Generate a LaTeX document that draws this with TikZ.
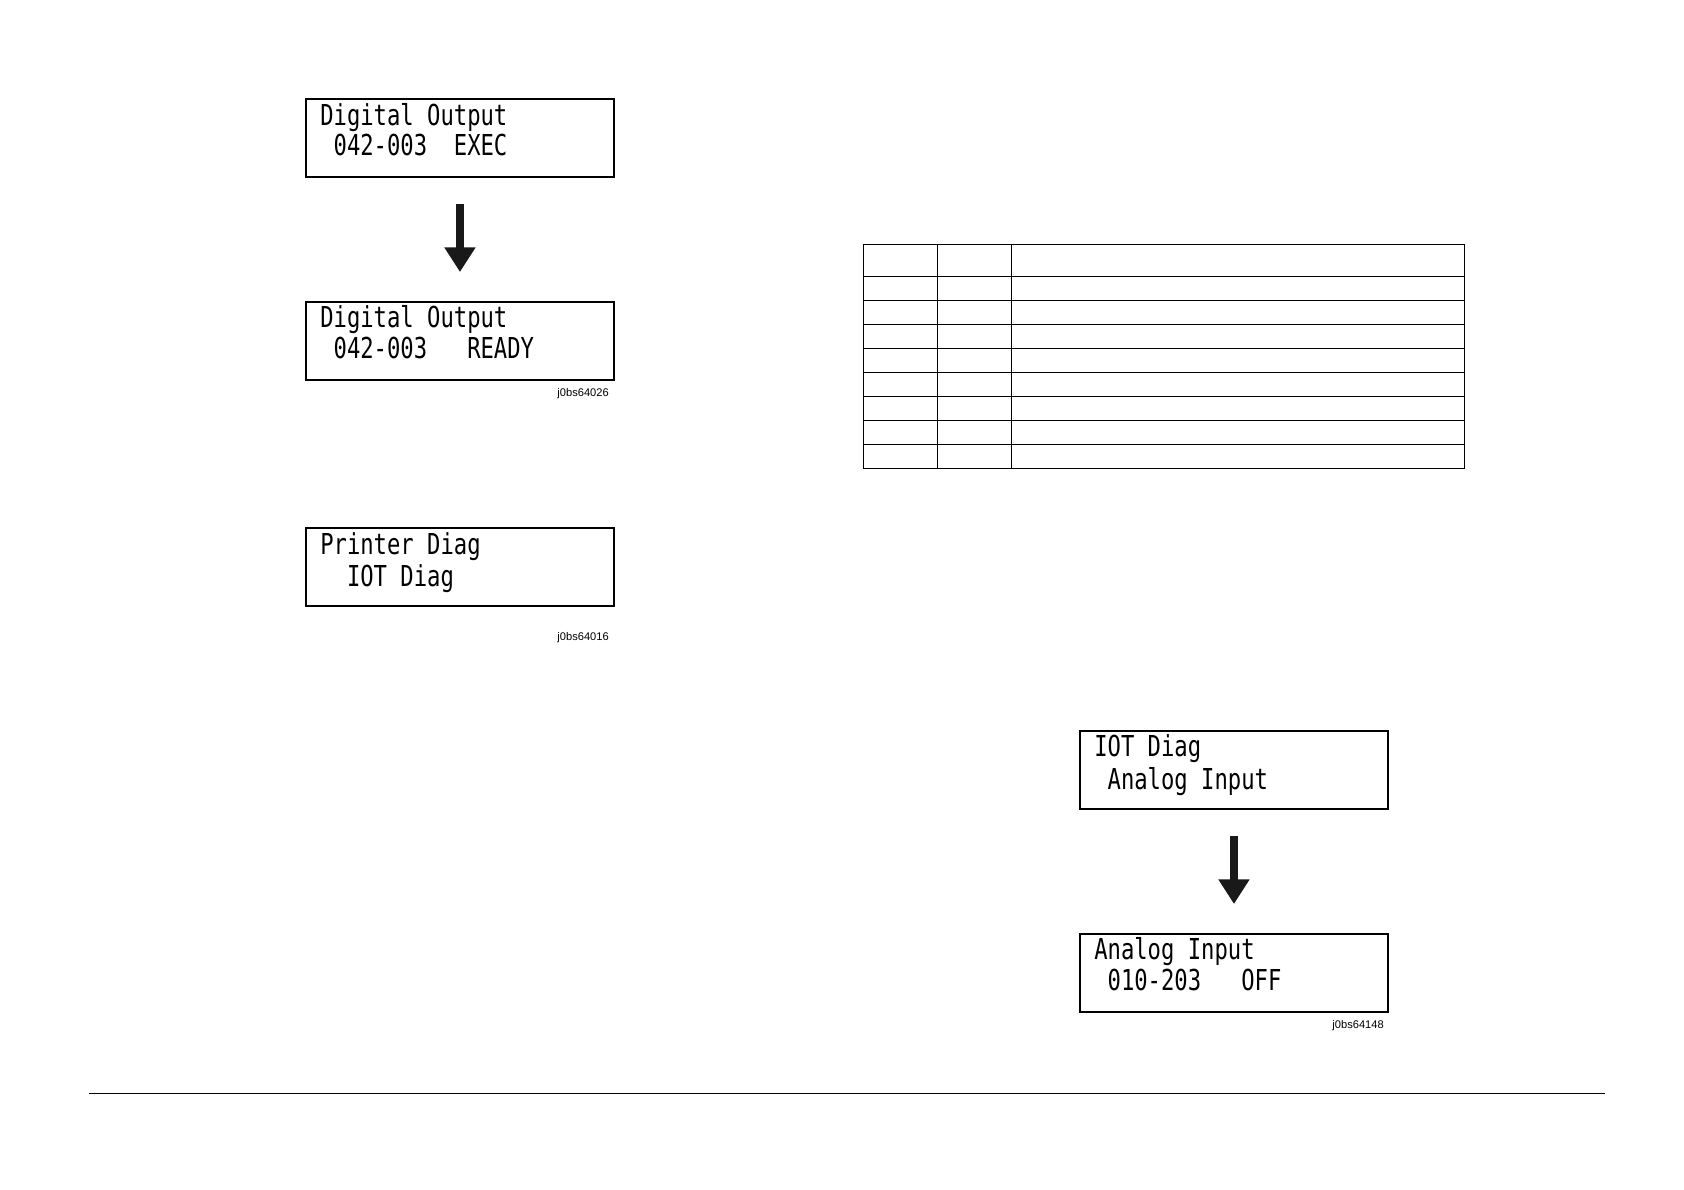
\documentclass[tikz,border=0pt]{standalone}
\usepackage{fontspec}
\usepackage{tikz}
\usetikzlibrary{arrows.meta, positioning}
\newfontfamily\lcdfont[FakeStretch=0.77]{DejaVu Sans Mono}
\newfontfamily\tagfont{Liberation Sans}
\newcommand{\blank}{\hphantom{0}}
\tikzstyle{lcd} = [rectangle, draw, line width=1.6pt, minimum width=7.69cm, minimum height=1.95cm, inner sep=0pt, anchor=north west]
\tikzstyle{lcdtext} = [inner sep=0pt, anchor=base west, font=\lcdfont\fontsize{20.5}{24}\selectfont]
\tikzstyle{tag} = [inner sep=0pt, anchor=east, font=\tagfont\fontsize{7.9}{9}\selectfont]
\tikzstyle{bigarrow} = [draw=black!90, line width=6pt, -{Triangle[width=21pt, length=17.5pt]}, shorten <=18.5pt, shorten >=20.6pt]
\tikzstyle{grid} = [line width=0.9pt]

\begin{document}
\begin{tikzpicture}[x=0.025cm, y=-0.025cm]
            \useasboundingbox (0,0) rectangle (1684,1190);

            % LCD screens
            \node [lcd] (dig1) at (305,98) {};
            \node [lcd] (dig2) at (305,301) {};
            \node [lcd] (prdiag) at (305,527) {};
            \node [lcd] (iotdiag) at (1079,730) {};
            \node [lcd] (analog) at (1079,933) {};

            % Screen texts
            \node [lcdtext] (dig1a) at ([shift={(15,27)}]dig1.north west) {Digital Output};
            \node [lcdtext] (dig1b) at ([shift={(15,57)}]dig1.north west) {\blank 042-003\blank\blank EXEC};
            \node [lcdtext] (dig2a) at ([shift={(15,26)}]dig2.north west) {Digital Output};
            \node [lcdtext] (dig2b) at ([shift={(15,57)}]dig2.north west) {\blank 042-003\blank\blank\blank READY};
            \node [lcdtext] (prdiaga) at ([shift={(15,27)}]prdiag.north west) {Printer Diag};
            \node [lcdtext] (prdiagb) at ([shift={(15,59)}]prdiag.north west) {\blank\blank IOT Diag};
            \node [lcdtext] (iotdiaga) at ([shift={(15,26)}]iotdiag.north west) {IOT Diag};
            \node [lcdtext] (iotdiagb) at ([shift={(15,59)}]iotdiag.north west) {\blank Analog Input};
            \node [lcdtext] (analoga) at ([shift={(15,26)}]analog.north west) {Analog Input};
            \node [lcdtext] (analogb) at ([shift={(15,57)}]analog.north west) {\blank 010-203\blank\blank\blank OFF};

            % Figure tags
            \node [tag] (tag1) at (609,394) {j0bs64026};
            \node [tag] (tag2) at (609,638) {j0bs64016};
            \node [tag] (tag3) at (1384,1026) {j0bs64148};

            % Arrows
            \path [bigarrow] (dig1) -- (dig2);
            \path [bigarrow] (iotdiag) -- (analog);

            % Table
            \draw [grid] (863.3,244.3) rectangle (1464.3,468.3);
            \foreach \y in {276.3,300.3,...,444.3}
                \draw [grid] (863.3,\y) -- (1464.3,\y);
            \foreach \x in {937.3,1011.7}
                \draw [grid] (\x,244.3) -- (\x,468.3);

            % Footer rule
            \draw [line width=1pt] (89,1093.3) -- (1605,1093.3);
        \end{tikzpicture}
\end{document}
